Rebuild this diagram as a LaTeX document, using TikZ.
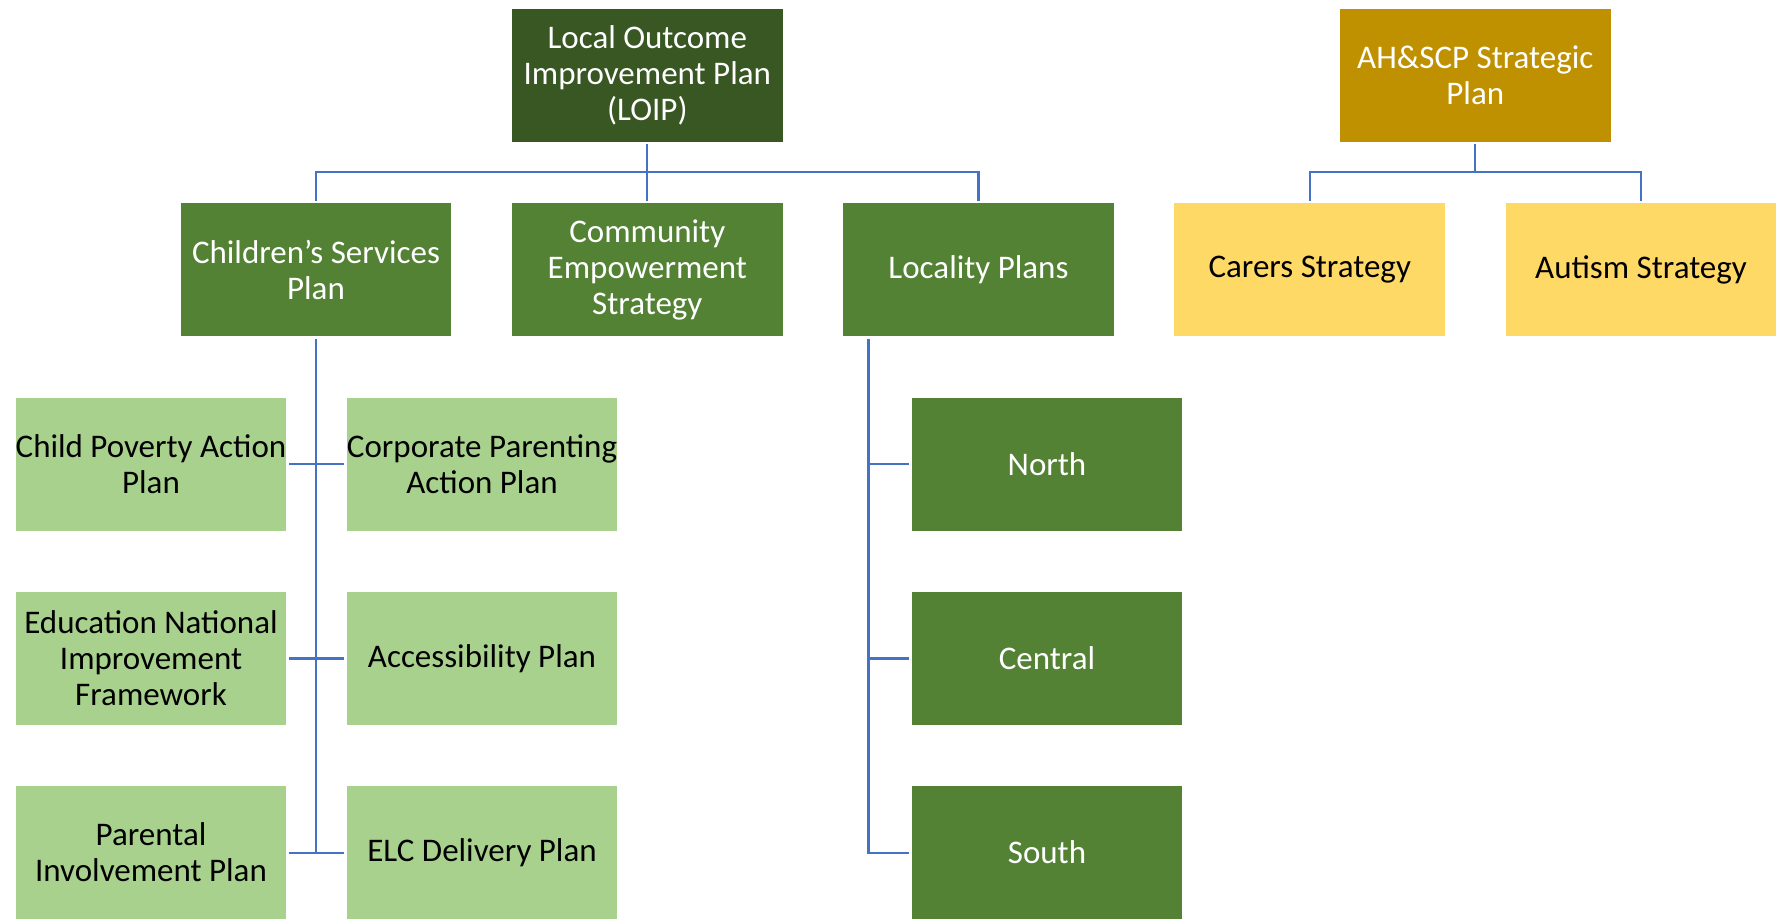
\documentclass[tikz,border=0pt]{standalone}
\usepackage{fontspec}
\setmainfont{Carlito}
\definecolor{darkg}{HTML}{385723}
\definecolor{midg}{HTML}{548235}
\definecolor{lightg}{HTML}{A9D18E}
\definecolor{gold}{HTML}{BF9000}
\definecolor{lighty}{HTML}{FFD966}
\definecolor{connblue}{HTML}{4472C4}
\tikzset{
  box/.style={minimum width=270.5pt, minimum height=133.5pt, inner sep=0pt, align=center, font=\fontsize{33}{36}\selectfont},
  boxdark/.style={box, fill=darkg, text=white},
  boxmid/.style={box, fill=midg, text=white},
  boxlight/.style={box, fill=lightg, text=black},
  boxgold/.style={box, fill=gold, text=white},
  boxyellow/.style={box, fill=lighty, text=black},
  conn/.style={draw=connblue, line width=2.2pt}
}
\begin{document}
\begin{tikzpicture}[x=1pt,y=-1pt]
\useasboundingbox[fill=white] (0,0) rectangle (1776,922);
% top level
\node[boxdark] (loip) at (647.3,75.4) {Local Outcome\\Improvement Plan\\(LOIP)};
\node[boxgold] (ahscp) at (1475.3,75.4) {AH\&SCP Strategic\\Plan};
% second level
\node[boxmid] (csp) at (316,269.6) {Children’s Services\\Plan};
\node[boxmid] (ces) at (647.3,269.6) {Community\\Empowerment\\Strategy};
\node[boxmid] (loc) at (978.5,269.6) {Locality Plans};
\node[boxyellow] (car) at (1309.7,269.6) {Carers Strategy};
\node[boxyellow] (aut) at (1641,269.6) {Autism Strategy};
% children's services sub-plans
\node[boxlight] (cpap) at (151,464.3) {Child Poverty Action\\Plan};
\node[boxlight] (corp) at (482,464.3) {Corporate Parenting\\Action Plan};
\node[boxlight] (enif) at (151,658.4) {Education National\\Improvement\\Framework};
\node[boxlight] (acc) at (482,658.4) {Accessibility Plan};
\node[boxlight] (pip) at (151,852.6) {Parental\\Involvement Plan};
\node[boxlight] (elc) at (482,852.6) {ELC Delivery Plan};
% localities
\node[boxmid] (north) at (1047,464.3) {North};
\node[boxmid] (central) at (1047,658.4) {Central};
\node[boxmid] (south) at (1047,852.6) {South};
% bus coordinates
\coordinate (bus1) at (647.3,172.3);
\coordinate (bus2) at (1475.3,172.3);
\coordinate (lt) at ([xshift=25.5pt]loc.south west);
% connectors: LOIP
\draw[conn, shorten <=2pt] (loip.south) -- (bus1);
\draw[conn, shorten >=2pt] (bus1) -- (ces.north);
\draw[conn, shorten <=2pt, shorten >=2pt] (csp.north) |- (bus1) -| (loc.north);
% connectors: AH&SCP
\draw[conn, shorten <=2pt] (ahscp.south) -- (bus2);
\draw[conn, shorten <=2pt, shorten >=2pt] (car.north) |- (bus2) -| (aut.north);
% connectors: Children's Services
\draw[conn, shorten <=2.5pt] (csp.south) -- (csp.south |- pip.east);
\draw[conn, shorten <=2.5pt, shorten >=2.5pt] (cpap.east) -- (corp.west);
\draw[conn, shorten <=2.5pt, shorten >=2.5pt] (enif.east) -- (acc.west);
\draw[conn, shorten <=2.5pt, shorten >=2.5pt] (pip.east) -- (elc.west);
% connectors: Locality
\draw[conn, shorten <=2.5pt, shorten >=2.5pt] (lt) |- (south.west);
\draw[conn, shorten >=2.5pt] (lt |- north.west) -- (north.west);
\draw[conn, shorten >=2.5pt] (lt |- central.west) -- (central.west);
\end{tikzpicture}
\end{document}
